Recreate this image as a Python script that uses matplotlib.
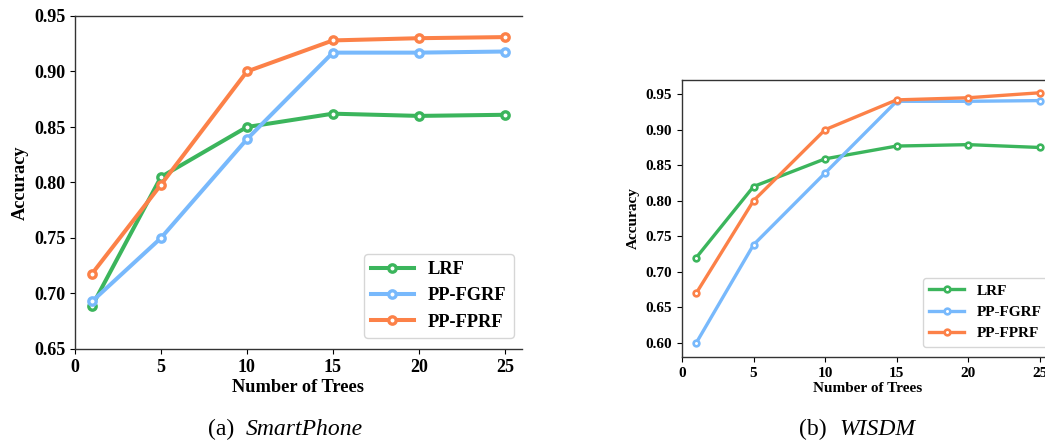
import matplotlib
matplotlib.use("Agg")
import matplotlib.pyplot as plt

plt.rcParams["font.family"] = ["Liberation Serif", "DejaVu Serif"]

# ── data ──────────────────────────────────────────────
trees = [1, 5, 10, 15, 20, 25]
methods = ["LRF", "PP-FGRF", "PP-FPRF"]
colors = ["#3bb55c", "#78b9fc", "#fc8148"]

# (a) SmartPhone
sp_lrf = [0.689, 0.805, 0.850, 0.862, 0.860, 0.861]
sp_fgrf = [0.693, 0.750, 0.839, 0.917, 0.917, 0.918]
sp_fprf = [0.718, 0.798, 0.900, 0.928, 0.930, 0.931]

# (b) WISDM
wi_lrf = [0.720, 0.820, 0.859, 0.877, 0.879, 0.875]
wi_fgrf = [0.600, 0.738, 0.839, 0.940, 0.940, 0.941]
wi_fprf = [0.670, 0.800, 0.900, 0.942, 0.945, 0.952]

W, H = 1045, 443
fig = plt.figure(figsize=(W / 100, H / 100), dpi=100)


def px_axes(x0, y_top, x1, y_bot):
    return fig.add_axes([x0 / W, 1 - y_bot / H, (x1 - x0) / W, (y_bot - y_top) / H])


def draw(ax, series, ylim, yticks, fs_tick, fs_lab, lw, ms, mew, leg_xy):
    for vals, name, c in zip(series, methods, colors):
        ax.plot(trees, vals, color=c, lw=lw, marker="o", ms=ms, mew=mew,
                mfc="white", mec=c, label=name, clip_on=False, zorder=3)
    ax.set_xlim(0, 26)
    ax.set_ylim(*ylim)
    ax.set_xticks([0, 5, 10, 15, 20, 25])
    ax.set_yticks(yticks)
    ax.set_yticklabels([f"{v:.2f}" for v in yticks])
    for lab in ax.get_xticklabels() + ax.get_yticklabels():
        lab.set_fontweight("bold")
        lab.set_fontsize(fs_tick)
    ax.set_xlabel("Number of Trees", fontsize=fs_lab, fontweight="bold", labelpad=2)
    ax.set_ylabel("Accuracy", fontsize=fs_lab, fontweight="bold")
    for s in ax.spines.values():
        s.set_color("#333333")
        s.set_linewidth(1.0)
    ax.spines["right"].set_visible(False)
    leg = ax.legend(loc="upper left", bbox_to_anchor=(leg_xy[0] / W, 1 - leg_xy[1] / H),
                    bbox_transform=fig.transFigure, borderaxespad=0,
                    prop={"weight": "bold", "size": fs_lab}, handlelength=2.3,
                    framealpha=0.8, edgecolor="#cccccc")
    return leg


ax1 = px_axes(75, 16, 522, 349)
draw(ax1, [sp_lrf, sp_fgrf, sp_fprf], (0.65, 0.95),
     [0.65, 0.70, 0.75, 0.80, 0.85, 0.90, 0.95], 13, 13.2, 2.9, 5.3, 2.4, (364, 254))

ax2 = px_axes(682, 80, 1054, 357)
draw(ax2, [wi_lrf, wi_fgrf, wi_fprf], (0.58, 0.97),
     [0.60, 0.65, 0.70, 0.75, 0.80, 0.85, 0.90, 0.95], 11, 11, 2.4, 4.1, 1.9, (923, 278))

# captions
cap_y = 1 - 435 / H
fig.text(234 / W, cap_y, "(a)", fontsize=17, ha="right", va="baseline")
fig.text(246 / W, cap_y, "SmartPhone", fontsize=17, style="italic", ha="left", va="baseline")
fig.text(827 / W, cap_y, "(b)", fontsize=17, ha="right", va="baseline")
fig.text(839 / W, cap_y, "WISDM", fontsize=17, style="italic", ha="left", va="baseline")

fig.savefig("out.png", dpi=100)
